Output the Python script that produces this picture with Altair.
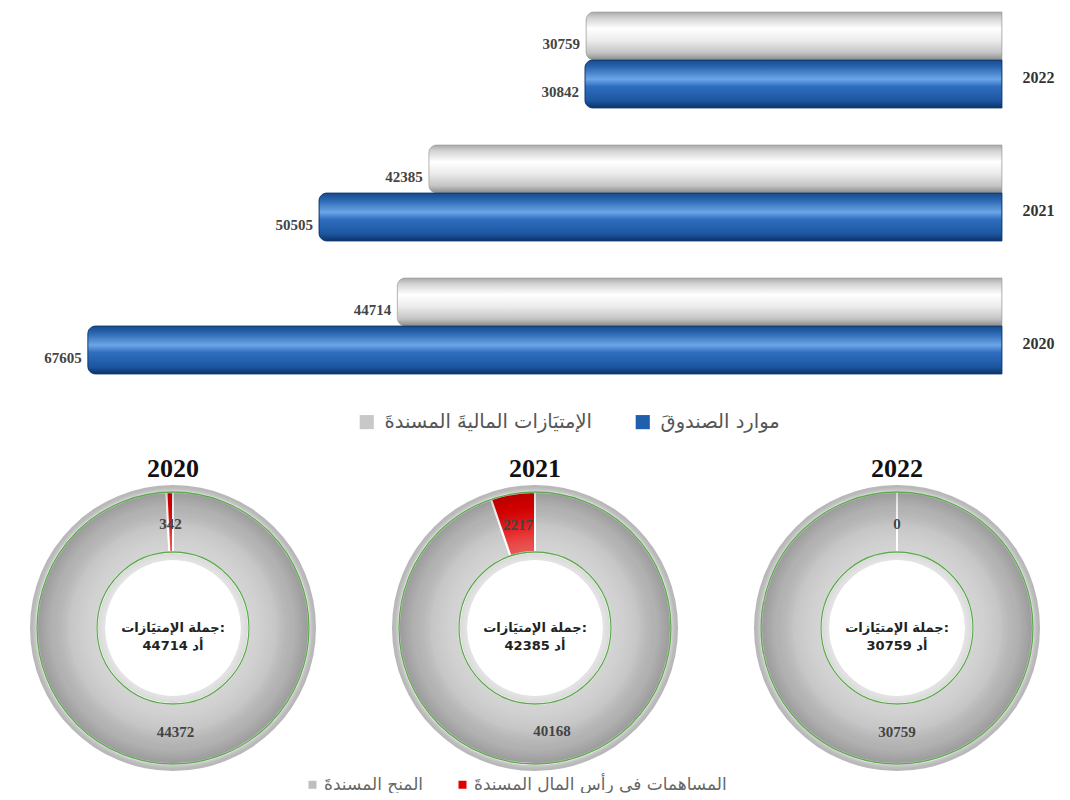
import math
import altair as alt
import pandas as pd

# ---------------- data ----------------
years = ["2022", "2021", "2020"]
fund_resources = [30842, 50505, 67605]      # موارد الصندوق
privileges = [30759, 42385, 44714]          # الإمتيازات المالية المسندة
series_names = ["الإمتيَازات الماليةَ المسندةَ", "موارد الصندوقَ"]

donut_years = ["2020", "2021", "2022"]
capital_contrib = [342, 2217, 0]            # المساهمات في رأس المال المسندة
grants = [44372, 40168, 30759]              # المنح المسندة
totals = [44714, 42385, 30759]
slice_names = ["المنح المسندةَ", "المساهمات فى رأس المال المسندةَ"]
center_caption = "جملة الإمتيَازات:"
unit = "أد"

# ---------------- top bar chart ----------------
rows = []
for k, vals in enumerate([privileges, fund_resources]):
    for y, v in zip(years, vals):
        rows.append({"year": y, "series": series_names[k], "value": v, "k": k})
bars = pd.DataFrame(rows)

X = alt.X("value:Q", scale=alt.Scale(domain=[0, 73500], reverse=True, nice=False), axis=None)
Y = alt.Y("year:N", sort=years,
          scale=alt.Scale(paddingInner=0.278, paddingOuter=0.03),
          axis=alt.Axis(orient="right", title=None, domain=False, ticks=False,
                        labelFont="Liberation Serif", labelFontWeight="bold",
                        labelFontSize=16, labelColor="#333", labelPadding=20,
                        labelOffset=18, labelAlign="left"))
YO = alt.YOffset("series:N", sort=series_names, scale=alt.Scale(paddingInner=0, paddingOuter=0))

gray_grad = alt.LinearGradient(gradient="linear", x1=0, x2=0, y1=0, y2=1, stops=[
    alt.GradientStop(offset=0, color="#a8a8a8"),
    alt.GradientStop(offset=0.12, color="#d2d2d2"),
    alt.GradientStop(offset=0.35, color="#ffffff"),
    alt.GradientStop(offset=0.6, color="#ebebeb"),
    alt.GradientStop(offset=0.85, color="#c4c4c4"),
    alt.GradientStop(offset=1, color="#8a8a8a"),
])
blue_grad = alt.LinearGradient(gradient="linear", x1=0, x2=0, y1=0, y2=1, stops=[
    alt.GradientStop(offset=0, color="#184a88"),
    alt.GradientStop(offset=0.15, color="#2a66b2"),
    alt.GradientStop(offset=0.4, color="#6ca6e8"),
    alt.GradientStop(offset=0.55, color="#2f6ec0"),
    alt.GradientStop(offset=0.85, color="#1c56a0"),
    alt.GradientStop(offset=1, color="#0b3266"),
])

base = alt.Chart(bars)
bar_base = base.mark_bar(cornerRadiusTopLeft=8, cornerRadiusBottomLeft=8).encode(
    x=X, y=Y, yOffset=YO,
    color=alt.Color("series:N",
                    scale=alt.Scale(domain=series_names, range=["#c8c8c8", "#1f5fae"]),
                    legend=alt.Legend(title=None, orient="none", legendX=349, legendY=404,
                                      direction="horizontal", symbolType="square",
                                      symbolSize=200, symbolStrokeWidth=0,
                                      labelFont="DejaVu Sans", labelFontSize=19.5,
                                      labelOffset=8, labelColor="#555",
                                      columnPadding=40, labelLimit=500)))
bar_gray = base.mark_bar(color=gray_grad, cornerRadiusTopLeft=8, cornerRadiusBottomLeft=8,
                         stroke="#a0a0a0", strokeWidth=0.6).encode(
    x=X, y=Y, yOffset=YO).transform_filter(alt.datum.k == 0)
bar_blue = base.mark_bar(color=blue_grad, cornerRadiusTopLeft=8, cornerRadiusBottomLeft=8,
                         stroke="#0e3a70", strokeWidth=0.8).encode(
    x=X, y=Y, yOffset=YO).transform_filter(alt.datum.k == 1)
bar_text = base.mark_text(align="right", dx=-6, dy=8, font="Liberation Serif",
                          fontWeight="bold", fontSize=15, color="#444").encode(
    x=X, y=Y, yOffset=YO, text=alt.Text("value:Q", format="d"))

top = alt.layer(bar_base, bar_gray, bar_blue, bar_text).properties(width=994, height=370)

# ---------------- donuts ----------------
shade = alt.RadialGradient(gradient="radial", x1=0.5, y1=0.5, r1=0, x2=0.5, y2=0.5, r2=0.5, stops=[
    alt.GradientStop(offset=0, color="rgba(255,255,255,0)"),
    alt.GradientStop(offset=0.475, color="rgba(255,255,255,0.55)"),
    alt.GradientStop(offset=0.53, color="rgba(255,255,255,0.35)"),
    alt.GradientStop(offset=0.61, color="rgba(255,255,255,0.28)"),
    alt.GradientStop(offset=0.72, color="rgba(255,255,255,0.12)"),
    alt.GradientStop(offset=0.85, color="rgba(0,0,0,0.07)"),
    alt.GradientStop(offset=0.945, color="rgba(0,0,0,0.18)"),
    alt.GradientStop(offset=0.96, color="rgba(255,255,255,0.18)"),
    alt.GradientStop(offset=1, color="rgba(0,0,0,0.06)"),
])
TWO_PI = 2 * math.pi

donut_legend = alt.Legend(title=None, orient="none", legendX=296, legendY=768,
                          direction="horizontal", symbolType="square", symbolSize=64,
                          symbolStrokeWidth=0, labelFont="DejaVu Sans", labelFontSize=17,
                          labelOffset=3, labelColor="#666", columnPadding=30, labelLimit=500)


def donut(i):
    df = pd.DataFrame({"part": slice_names,
                       "value": [grants[i], capital_contrib[i]],
                       "ord": [0, 1]})
    ring = pd.DataFrame({"label": [f"{center_caption}\n{totals[i]} {unit}"]})
    fill = alt.Fill("part:N", scale=alt.Scale(domain=slice_names, range=["#bebebe", "#e00000"]),
                    legend=donut_legend)
    theta = alt.Theta("value:Q", stack=True)
    order = alt.Order("ord:Q")

    rim = alt.Chart(ring).mark_arc(theta=0, theta2=TWO_PI, innerRadius=68, outerRadius=143,
                                   color="#c4c4c4").encode(opacity=alt.value(1))
    slices = alt.Chart(df).mark_arc(innerRadius=76, outerRadius=136, stroke="white",
                                    strokeWidth=2).encode(theta=theta, order=order, fill=fill)
    shading = alt.Chart(ring).mark_arc(theta=0, theta2=TWO_PI, innerRadius=68, outerRadius=143,
                                       fill=shade).encode(opacity=alt.value(1))
    outline = alt.Chart(ring).mark_arc(theta=0, theta2=TWO_PI, innerRadius=76, outerRadius=136,
                                       fill="transparent", stroke="#5fa84f",
                                       strokeWidth=1.3).encode(opacity=alt.value(1))
    labels = alt.Chart(df).mark_text(radius=104, font="Liberation Serif", fontWeight="bold",
                                     fontSize=15, color="#444").encode(
        theta=theta, order=order, text=alt.Text("value:Q", format="d"))
    center = alt.Chart(ring).mark_text(lineBreak="\n", font="DejaVu Sans", fontWeight="bold",
                                       fontSize=13, color="#222", lineHeight=18).encode(
        text="label:N")
    return alt.layer(rim, slices, shading, outline, labels, center).properties(
        width=330, height=292,
        title=alt.TitleParams(donut_years[i], font="Liberation Serif", fontSize=26,
                              fontWeight="bold", color="#111", offset=0, anchor="middle"))


donuts = alt.hconcat(donut(0), donut(1), donut(2), spacing=32)

chart = alt.vconcat(top, donuts, spacing=78).properties(padding=0).configure_view(stroke=None)

chart.save("out.html", embed_options={"renderer": "svg", "actions": False})
